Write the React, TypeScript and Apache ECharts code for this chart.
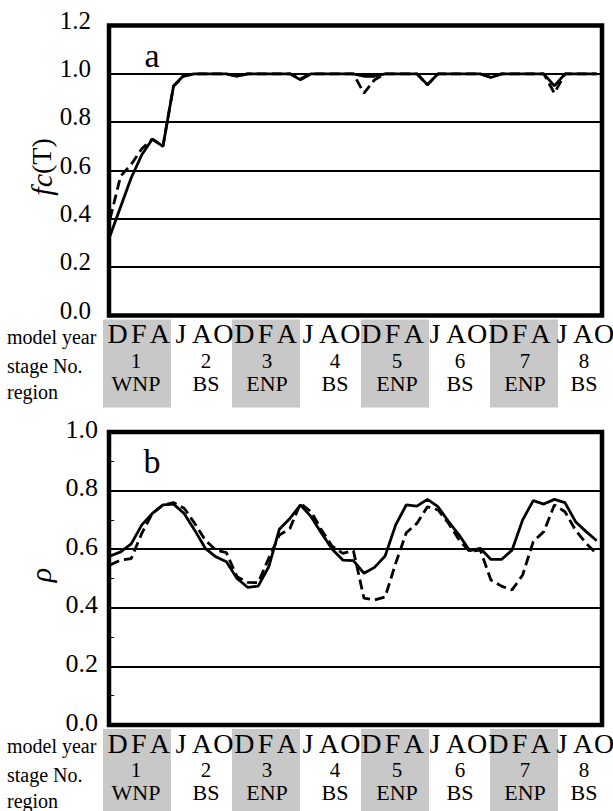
import React, { useEffect, useRef } from "react";
import * as echarts from "echarts";

// ---------- data ----------
const MONTH_LETTERS = ["D", "F", "A", "J", "A", "O"];
const MODEL_YEARS = 4;
const STAGE_NUMBERS = ["1", "2", "3", "4", "5", "6", "7", "8"];
const REGIONS = ["WNP", "BS", "ENP", "BS", "ENP", "BS", "ENP", "BS"];
const ROW_LABELS = ["model year", "stage No.", "region"];

// panel a: fc(T), monthly values
const FC_SOLID = [
  0.33, 0.45, 0.57, 0.665, 0.73, 0.70, 0.95, 0.995, 1.0, 1.0, 1.0, 1.0,
  0.99, 1.0, 1.0, 1.0, 1.0, 1.0, 0.975, 1.0, 1.0, 1.0, 1.0, 1.0,
  0.99, 0.99, 1.0, 1.0, 1.0, 1.0, 0.955, 1.0, 1.0, 1.0, 1.0, 1.0,
  0.985, 1.0, 1.0, 1.0, 1.0, 1.0, 0.95, 1.0, 1.0, 1.0, 1.0,
];
const FC_DASHED = [
  0.40, 0.577, 0.625, 0.69, 0.73, 0.70, 0.95, 0.99, 1.0, 1.0, 1.0, 1.0,
  0.99, 1.0, 1.0, 1.0, 1.0, 1.0, 0.98, 1.0, 1.0, 1.0, 1.0, 1.0,
  0.92, 0.975, 1.0, 1.0, 1.0, 1.0, 0.955, 1.0, 1.0, 1.0, 1.0, 1.0,
  0.985, 1.0, 1.0, 1.0, 1.0, 1.0, 0.92, 1.0, 1.0, 1.0, 1.0,
];

// panel b: rho, monthly values
const RHO_SOLID = [
  0.577, 0.591, 0.618, 0.683, 0.722, 0.751, 0.754, 0.722, 0.665, 0.603, 0.574, 0.557,
  0.50, 0.47, 0.474, 0.54, 0.668, 0.705, 0.751, 0.711, 0.654, 0.60, 0.563, 0.561,
  0.518, 0.538, 0.577, 0.683, 0.751, 0.747, 0.770, 0.745, 0.694, 0.648, 0.595, 0.603,
  0.565, 0.565, 0.597, 0.70, 0.766, 0.754, 0.77, 0.759, 0.694, 0.66, 0.629,
];
const RHO_DASHED = [
  0.546, 0.563, 0.568, 0.654, 0.722, 0.751, 0.759, 0.74, 0.688, 0.631, 0.597, 0.588,
  0.506, 0.487, 0.486, 0.569, 0.648, 0.671, 0.756, 0.728, 0.665, 0.61, 0.586, 0.595,
  0.433, 0.427, 0.437, 0.552, 0.656, 0.688, 0.745, 0.734, 0.688, 0.631, 0.592, 0.597,
  0.495, 0.474, 0.461, 0.512, 0.626, 0.66, 0.751, 0.728, 0.665, 0.62, 0.584,
];

// ---------- layout ----------
const W = 613;
const H = 811;
const FONT = "Liberation Serif";
const PLOT_LEFT = 109;
const PLOT_RIGHT = 602;
const A_TOP = 25.5;
const A_BOTTOM = 315.5;
const B_TOP = 432;
const B_BOTTOM = 725;
const STAGE_X = [136, 206, 267, 335, 397, 460, 525, 584];

function txt(text: string, x: number, y: number, size: number, align = "center", extra: any = {}) {
  return {
    type: "text",
    x,
    y,
    z: 10,
    style: {
      text,
      fill: "#000",
      fontSize: size,
      fontFamily: FONT,
      align,
      verticalAlign: "middle",
      textAlign: align,
      textVerticalAlign: "middle",
      ...extra,
    },
  };
}

function tableGraphics(bottom: number) {
  const els: any[] = [];
  STAGE_NUMBERS.forEach((_, k) => {
    if (k % 2 === 0) {
      els.push({
        type: "rect",
        z: 1,
        shape: { x: 103 + 64.5 * k, y: bottom + 4, width: 68, height: 88 },
        style: { fill: "#c8c8c8" },
      });
    }
  });
  for (let yr = 0; yr < MODEL_YEARS; yr++) {
    MONTH_LETTERS.forEach((m, j) => {
      const k = yr * MONTH_LETTERS.length + j;
      els.push(txt(m, 117.5 + 21.16 * k, bottom + 18, 28, "center", { lineHeight: 22 }));
    });
  }
  STAGE_NUMBERS.forEach((s, k) => els.push(txt(s, STAGE_X[k], bottom + 45, 21, "center", { lineHeight: 18 })));
  REGIONS.forEach((r, k) => els.push(txt(r, STAGE_X[k], bottom + 67.5, 22, "center", { lineHeight: 20 })));
  els.push(txt(ROW_LABELS[0], 7, bottom + 21, 20, "left", { lineHeight: 18 }));
  els.push(txt(ROW_LABELS[1], 7, bottom + 50, 20, "left", { lineHeight: 18 }));
  els.push(txt(ROW_LABELS[2], 7, bottom + 76, 20, "left", { lineHeight: 18 }));
  return els;
}

const toPairs = (arr: number[]) => arr.map((v, i) => [i, v]);

export default function App() {
  const ref = useRef<HTMLDivElement>(null);
  useEffect(() => {
    if (!ref.current) return;
    const chart = echarts.init(ref.current, null, { renderer: "svg", width: W, height: H });

    const gridBase = {
      left: PLOT_LEFT,
      width: PLOT_RIGHT - PLOT_LEFT,
      show: true,
      borderColor: "#000",
      borderWidth: 4.5,
      backgroundColor: "transparent",
      containLabel: false,
    };

    const xAxisBase = {
      type: "value",
      min: -0.1,
      max: 46.5,
      axisLine: { show: false },
      axisTick: { show: false },
      axisLabel: { show: false },
      splitLine: { show: false },
    };

    const lineSeries = (data: number[], idx: number, dashed: boolean) => ({
      type: "line",
      xAxisIndex: idx,
      yAxisIndex: idx,
      data: toPairs(data),
      showSymbol: false,
      symbol: "none",
      z: 5,
      lineStyle: {
        color: "#000",
        width: 2.8,
        type: dashed ? [10, 5] : "solid",
      },
    });

    chart.setOption({
      animation: false,
      backgroundColor: "#fff",
      textStyle: { fontFamily: FONT },
      grid: [
        { ...gridBase, top: A_TOP, height: A_BOTTOM - A_TOP },
        { ...gridBase, top: B_TOP, height: B_BOTTOM - B_TOP },
      ],
      xAxis: [
        { ...xAxisBase, gridIndex: 0 },
        { ...xAxisBase, gridIndex: 1 },
      ],
      yAxis: [
        {
          type: "value",
          gridIndex: 0,
          min: 0,
          max: 1.2,
          interval: 0.2,
          axisLine: { show: false },
          axisTick: { show: false },
          axisLabel: {
            color: "#000",
            fontSize: 25,
            fontFamily: FONT,
            margin: 18,
            verticalAlign: "bottom",
            lineHeight: 11,
            formatter: (v: number) => v.toFixed(1),
          },
          splitLine: { show: true, lineStyle: { color: "#000", width: 2 } },
        },
        {
          type: "value",
          gridIndex: 1,
          min: 0,
          max: 1,
          interval: 0.2,
          axisLine: { show: false },
          axisTick: { show: false, inside: true },
          minorTick: { show: true, splitNumber: 2, length: 4, lineStyle: { color: "#000", width: 1 } },
          axisLabel: {
            color: "#000",
            fontSize: 26,
            fontFamily: FONT,
            margin: 11,
            verticalAlign: "bottom",
            lineHeight: 6,
            formatter: (v: number) => v.toFixed(1),
          },
          splitLine: { show: true, lineStyle: { color: "#000", width: 2 } },
        },
      ],
      series: [
        lineSeries(FC_DASHED, 0, true),
        lineSeries(FC_SOLID, 0, false),
        lineSeries(RHO_DASHED, 1, true),
        lineSeries(RHO_SOLID, 1, false),
      ],
      graphic: [
        ...tableGraphics(A_BOTTOM),
        ...tableGraphics(B_BOTTOM),
        txt("a", 152, 55, 34),
        txt("b", 152, 461, 34),
        {
          type: "text",
          x: 41,
          y: 167,
          rotation: Math.PI / 2,
          z: 10,
          style: {
            text: "{i|fc}(T)",
            fill: "#000",
            fontSize: 28,
            fontFamily: FONT,
            align: "center",
            verticalAlign: "middle",
            textAlign: "center",
            textVerticalAlign: "middle",
            rich: {
              i: { fontStyle: "italic", fontSize: 30, fontFamily: FONT, fill: "#000" },
            },
          },
        },
        {
          type: "text",
          x: 40,
          y: 575,
          rotation: Math.PI / 2,
          z: 10,
          style: {
            text: "ρ",
            fill: "#000",
            fontSize: 30,
            fontStyle: "italic",
            fontFamily: FONT,
            align: "center",
            verticalAlign: "middle",
            textAlign: "center",
            textVerticalAlign: "middle",
          },
        },
      ],
    });
    return () => chart.dispose();
  }, []);

  return (
    <div
      ref={ref}
      style={{ position: "absolute", left: 0, top: 0, width: W, height: H, background: "#fff", overflow: "hidden" }}
    />
  );
}
